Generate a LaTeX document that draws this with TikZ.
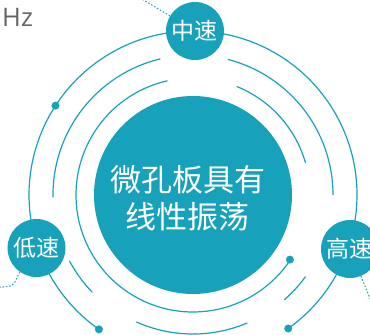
\documentclass[tikz,border=0pt]{standalone}
\usepackage{fontspec}
\usetikzlibrary{calc}
\newfontfamily\cjk{Noto Sans CJK SC}
\newfontfamily\hzfont{Open Sans}
\definecolor{tealc}{RGB}{23,161,186}
\definecolor{hzgray}{RGB}{100,100,100}
\begin{document}
\begin{tikzpicture}[x=1pt,y=1pt,
  ring/.style={draw=tealc, line width=1.2pt},
  dotmark/.style={fill=tealc, circle, inner sep=0pt, minimum size=8pt},
  speed/.style={circle, fill=tealc, minimum size=58pt, inner sep=0pt, text=white, font=\cjk\fontsize{23}{23}\selectfont},
  link/.style={draw=tealc, line width=1pt, dash pattern=on 1.6pt off 1.8pt}
]
\useasboundingbox (-193,-140) rectangle (177,195);
\clip (-193,-140) rectangle (177,195);
% outer ring
\draw[ring] (-54.5:164) arc[start angle=-54.5, end angle=235, radius=164];
% middle ring segments
\draw[ring] (0:140) arc[start angle=0, end angle=75.6, radius=140];
\draw[ring] (103.5:140) arc[start angle=103.5, end angle=181, radius=140];
\draw[ring] (208:140) arc[start angle=208, end angle=224, radius=140];
\draw[ring] (-49:139) arc[start angle=-49, end angle=-36, radius=139];
\draw[ring] (246:139) arc[start angle=246, end angle=293, radius=139];
% inner ring segments
\draw[ring] (16:117) arc[start angle=16, end angle=68, radius=117];
\draw[ring] (102.6:117) arc[start angle=102.6, end angle=326.3, radius=117];
% dots
\node[dotmark] (dA) at (147:164) {};
\node[dotmark] (dB) at (235:164) {};
\node[dotmark] (dC) at (-54.5:164) {};
\node[dotmark] (dD) at (-33.7:116.5) {};
% core
\node[circle, fill=tealc, minimum size=198pt, inner sep=0pt] (core) at (0,0) {};
\node[text=white, align=center, font=\cjk\fontsize{31}{37}\selectfont] (title) at (-5,-3.5) {微孔板具有\\线性振荡};
% speed nodes
\node[speed] (mid) at (2,164) {中速};
\node[speed] (low) at (-156.5,-53) {低速};
\node[speed] (high) at (157,-54) {高速};
% dotted links
\coordinate (midout) at ($(mid.center)+(149:75)$);
\draw[link] (mid.149) -- (midout);
\coordinate (lowbend) at (-180,-91);
\coordinate (lowout) at (-200,-93);
\draw[link, rounded corners=4pt] (low.235) -- (lowbend) -- (lowout);
\coordinate (highout) at ($(high.center)+(-68:60)$);
\draw[link] (high.-68) -- (highout);
% Hz label
\node[anchor=base west, inner sep=0pt, text=hzgray, font=\hzfont\fontsize{25.5}{25.5}\selectfont] (hz) at (-191,168) {Hz};
\end{tikzpicture}
\end{document}
